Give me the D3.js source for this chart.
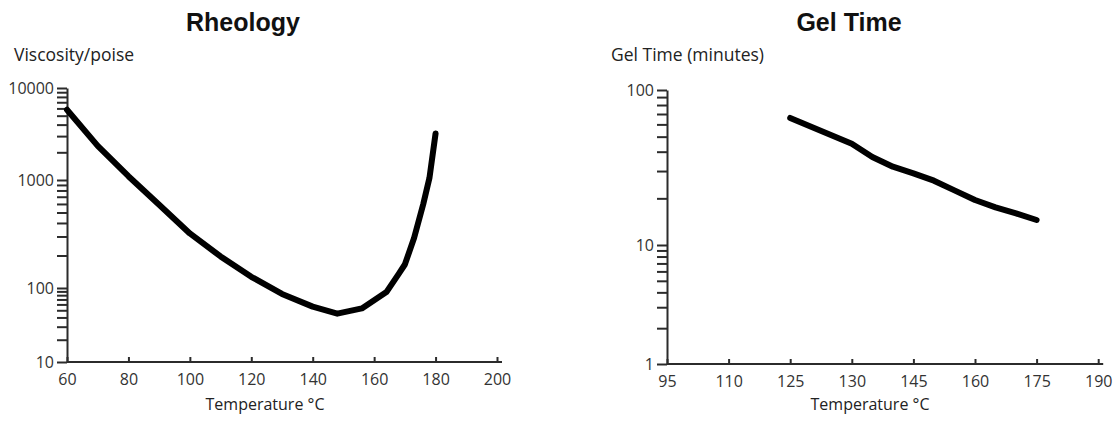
<!DOCTYPE html>
<html>
<head>
<meta charset="utf-8">
<script src="https://cdn.jsdelivr.net/npm/d3@7"></script>
<style>
  body { margin: 0; background: #fff; }
  svg { display: block; }
  .axis text { font-family: "Open Sans", sans-serif; font-size: 16px; fill: #333; }
  .axis path, .axis line { stroke: #2b2b2b; stroke-width: 2px; }
</style>
</head>
<body>
<svg id="chart" width="1115" height="421"></svg>
<script>
// rheology data
const rheoTemp = [60, 70, 80, 90, 100, 110, 120, 130, 140, 148, 156, 164, 168, 170, 173, 176, 178, 180];
const rheoVisc = [5800, 2350, 1100, 590, 320, 196, 127, 83, 56, 45, 53, 88, 135, 165, 290, 600, 1050, 3200];
const rheoXTicks = [60, 80, 100, 120, 140, 160, 180, 200];
const rheoYTicks = [10, 100, 1000, 10000];

// gel time data
const gelTemp = [125, 130, 135, 140, 145, 150, 155, 160, 165, 170, 175];
const gelMinutes = [66, 45, 37, 32, 29, 26, 22.5, 19.5, 17.5, 16, 14.5];
const gelXTicks = [95, 110, 125, 130, 145, 160, 175, 190];
const gelYTicks = [1, 10, 100];

const svg = d3.select("#chart");

// minor ticks 2..9 for each decade
function minorTicks(majors) {
  const out = [];
  majors.slice(0, -1).forEach(m => {
    for (let k = 2; k <= 9; k++) out.push(m * k);
  });
  return out;
}

function drawPanel(p) {
  const g = svg.append("g");

  // judul
  g.append("text")
    .attr("x", p.titleX).attr("y", 31)
    .attr("text-anchor", "middle")
    .attr("font-family", "'Liberation Sans', Arial, sans-serif")
    .attr("font-weight", "bold")
    .attr("font-size", "25px")
    .attr("fill", "#111")
    .text(p.title);

  // label sumbu y
  g.append("text")
    .attr("x", p.yLabelX).attr("y", 61)
    .attr("font-family", "'Open Sans', sans-serif")
    .attr("font-size", "17.5px")
    .attr("fill", "#222")
    .text(p.yLabel);

  // sumbu y (major)
  g.append("g")
    .attr("class", "axis")
    .attr("transform", `translate(${p.x.range()[0]},0)`)
    .call(d3.axisLeft(p.y).tickValues(p.yTicks).tickFormat(d3.format("d"))
      .tickSizeInner(10).tickSizeOuter(0).tickPadding(3));

  // minor ticks
  g.append("g")
    .attr("class", "axis")
    .attr("transform", `translate(${p.x.range()[0]},0)`)
    .call(d3.axisLeft(p.y).tickValues(minorTicks(p.yTicks)).tickFormat("")
      .tickSizeInner(10).tickSizeOuter(0))
    .call(a => a.select(".domain").remove());

  // sumbu x, tick ke atas
  const xr = p.x.range();
  const xAxis = g.append("g")
    .attr("class", "axis")
    .attr("transform", `translate(0,${p.y.range()[0]})`)
    .call(d3.axisBottom(p.x).tickValues(p.xTicks).tickFormat(d3.format("d"))
      .tickSizeInner(-5).tickSizeOuter(0).tickPadding(12));
  xAxis.select(".domain").remove();
  xAxis.append("line")
    .attr("x1", xr[0]).attr("x2", xr[xr.length - 1] + 5)
    .attr("y1", 0).attr("y2", 0);

  // label sumbu x
  g.append("text")
    .attr("x", p.xLabelX).attr("y", 410)
    .attr("text-anchor", "middle")
    .attr("font-family", "'Open Sans', sans-serif")
    .attr("font-size", "16px")
    .attr("fill", "#222")
    .text("Temperature °C");

  // garis data
  const line = d3.line()
    .x((d, i) => p.x(p.xs[i]))
    .y((d, i) => p.y(p.ys[i]));

  g.append("path")
    .datum(p.xs)
    .attr("d", line)
    .attr("fill", "none")
    .attr("stroke", "#000")
    .attr("stroke-width", 6)
    .attr("stroke-linejoin", "round")
    .attr("stroke-linecap", "round");
}

// rheology
drawPanel({
  title: "Rheology", titleX: 243,
  yLabel: "Viscosity/poise", yLabelX: 14,
  xLabelX: 265,
  x: d3.scaleLinear().domain([60, 200]).range([67, 497]),
  y: d3.scaleLog().domain([10, 100, 1000, 10000]).range([362, 288, 180, 88]),
  xTicks: rheoXTicks, yTicks: rheoYTicks,
  xs: rheoTemp, ys: rheoVisc
});

// gel time — label sumbu x tidak berjarak rata, skala piecewise
drawPanel({
  title: "Gel Time", titleX: 849,
  yLabel: "Gel Time (minutes)", yLabelX: 611,
  xLabelX: 870,
  x: d3.scaleLinear().domain(gelXTicks).range(gelXTicks.map((d, i) => 667 + i * 61.6)),
  y: d3.scaleLog().domain([1, 10, 100]).range([364, 245, 90]),
  xTicks: gelXTicks, yTicks: gelYTicks,
  xs: gelTemp, ys: gelMinutes
});
</script>
</body>
</html>
